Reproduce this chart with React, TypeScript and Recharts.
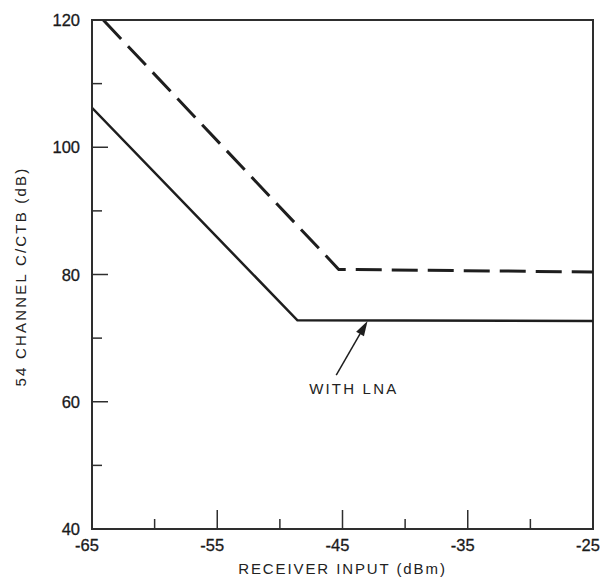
import React from 'react';
import {
  LineChart,
  Line,
  XAxis,
  YAxis,
  ReferenceArea,
  ReferenceLine,
  ReferenceDot,
} from 'recharts';

// Series: [receiver input dBm, C/CTB dB]
const withoutLnaX = [-64.1, -45.3, -25];
const withoutLnaY = [120, 80.8, 80.4];
const withLnaX = [-65, -48.6, -25];
const withLnaY = [106.2, 72.8, 72.7];

const xTicks = [-65, -60, -55, -50, -45, -40, -35, -30, -25];
const xLabeled = [-65, -55, -45, -35, -25];
const yTicks = [40, 50, 60, 70, 80, 90, 100, 110, 120];
const yLabeled = [40, 60, 80, 100, 120];

const arrowFrom = { x: -45.5, y: 64.2 };
const arrowTo = { x: -43.0, y: 72.7 };
const annotationPos = { x: -44.1, y: 62.1 };
const annotationText = 'WITH LNA';

const xTitle = 'RECEIVER INPUT (dBm)';
const yTitle = '54 CHANNEL C/CTB (dB)';

const dashedData = withoutLnaX.map((x, i) => ({ x, y: withoutLnaY[i] }));
const solidData = withLnaX.map((x, i) => ({ x, y: withLnaY[i] }));

const FONT = '"Liberation Sans", Arial, Helvetica, sans-serif';
const INK = '#1e1e1e';
const AXIS = '#2e2e2e';

const YTick = (props: any) => {
  const { x, y, payload } = props;
  const major = yLabeled.includes(payload.value);
  return (
    <g>
      <line x1={x} y1={y} x2={x + (major ? 16 : 10)} y2={y} stroke={AXIS} strokeWidth={1.5} />
      {major && (
        <text x={x - 12} y={y} dy={6} textAnchor="end" fill="#1a1a1a" fontSize={16.5} fontFamily={FONT} stroke="#1a1a1a" strokeWidth={0.3}>
          {payload.value}
        </text>
      )}
    </g>
  );
};

const XTick = (props: any) => {
  const { x, y, payload } = props;
  const major = xLabeled.includes(payload.value);
  return (
    <g>
      <line x1={x} y1={y} x2={x} y2={y - (major ? 19 : 10)} stroke={AXIS} strokeWidth={1.5} />
      {major && (
        <text x={x - 5} y={y + 22} textAnchor="middle" fill="#1a1a1a" fontSize={16.5} fontFamily={FONT} stroke="#1a1a1a" strokeWidth={0.3}>
          {payload.value}
        </text>
      )}
    </g>
  );
};

const ArrowShape = (props: any) => {
  const { x1, y1, x2, y2 } = props;
  const dx = x2 - x1;
  const dy = y2 - y1;
  const len = Math.sqrt(dx * dx + dy * dy) || 1;
  const ux = dx / len;
  const uy = dy / len;
  const head = 15;
  const half = 4.5;
  const bx = x2 - ux * head;
  const by = y2 - uy * head;
  const px = -uy;
  const py = ux;
  return (
    <g>
      <line x1={x1} y1={y1} x2={bx} y2={by} stroke={INK} strokeWidth={1.5} />
      <polygon
        points={`${x2},${y2} ${bx + px * half},${by + py * half} ${bx - px * half},${by - py * half}`}
        fill={INK}
      />
    </g>
  );
};

export default function App() {
  return (
    <div style={{ position: 'absolute', left: 0, top: 0, background: '#fff' }}>
      <LineChart width={603} height={583} margin={{ top: 20, right: 10, bottom: 0, left: 0 }}>
        <XAxis
          dataKey="x"
          type="number"
          domain={[-65, -25]}
          ticks={xTicks}
          interval={0}
          height={54}
          tickSize={0}
          tickMargin={0}
          tickLine={false}
          axisLine={{ stroke: AXIS, strokeWidth: 2 }}
          tick={<XTick />}
          allowDataOverflow
          label={(p: any) => {
            const vb = p.viewBox;
            return (
              <text
                x={vb.x + vb.width / 2}
                y={vb.y + 45}
                textAnchor="middle"
                fill="#222"
                fontSize={15}
                letterSpacing={1.9}
                fontFamily={FONT}
              >
                {xTitle}
              </text>
            );
          }}
        />
        <YAxis
          dataKey="y"
          type="number"
          domain={[40, 120]}
          ticks={yTicks}
          interval={0}
          width={92}
          tickSize={0}
          tickMargin={0}
          tickLine={false}
          axisLine={{ stroke: AXIS, strokeWidth: 2 }}
          tick={<YTick />}
          allowDataOverflow
          label={(p: any) => {
            const vb = p.viewBox;
            const cx = 20;
            const cy = vb.y + vb.height / 2 + 2;
            return (
              <text
                x={cx}
                y={cy}
                transform={`rotate(-90 ${cx} ${cy})`}
                textAnchor="middle"
                dominantBaseline="central"
                fill="#222"
                fontSize={15}
                letterSpacing={2.2}
                fontFamily={FONT}
              >
                {yTitle}
              </text>
            );
          }}
        />
        <ReferenceArea
          x1={-65}
          x2={-25}
          y1={40}
          y2={120}
          fill="none"
          fillOpacity={0}
          stroke={AXIS}
          strokeWidth={2}
        />
        <Line
          data={dashedData}
          dataKey="y"
          type="linear"
          stroke={INK}
          strokeWidth={3}
          strokeDasharray="26 10"
          dot={false}
          activeDot={false}
          isAnimationActive={false}
        />
        <Line
          data={solidData}
          dataKey="y"
          type="linear"
          stroke={INK}
          strokeWidth={2.5}
          dot={false}
          activeDot={false}
          isAnimationActive={false}
        />
        <ReferenceLine segment={[arrowFrom, arrowTo]} shape={<ArrowShape />} stroke={INK} />
        <ReferenceDot
          x={annotationPos.x}
          y={annotationPos.y}
          r={0}
          fill="none"
          stroke="none"
          label={{
            position: 'center',
            content: (p: any) => {
              const vb = p.viewBox;
              return (
                <text
                  x={vb.x + (vb.width || 0) / 2}
                  y={vb.y + (vb.height || 0) / 2}
                  dy={5.5}
                  textAnchor="middle"
                  fill="#222"
                  fontSize={15}
                  letterSpacing={2.2}
                  fontFamily={FONT}
                >
                  {annotationText}
                </text>
              );
            },
          }}
        />
      </LineChart>
    </div>
  );
}
